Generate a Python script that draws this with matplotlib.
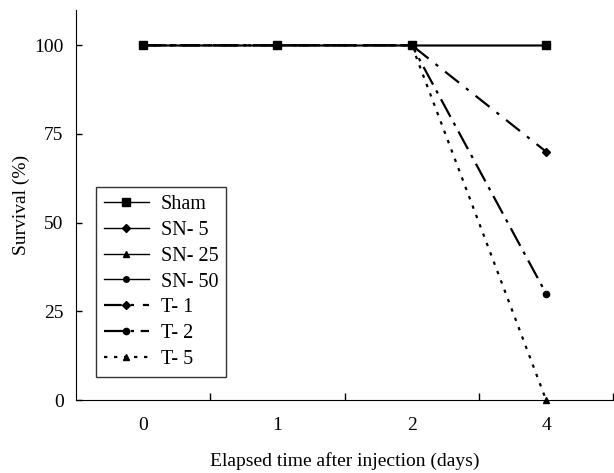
import matplotlib
matplotlib.use("Agg")
import matplotlib.pyplot as plt

plt.rcParams['font.family'] = ['Liberation Serif', 'DejaVu Serif']

days = ["0", "1", "2", "4"]
sham = [100, 100, 100, 100]
sn5 = [100, 100, 100, 100]
sn25 = [100, 100, 100, 100]
sn50 = [100, 100, 100, 100]
t1 = [100, 100, 100, 70]
t2 = [100, 100, 100, 30]
t5 = [100, 100, 100, 0]
y_ticks = [0, 25, 50, 75, 100]

fig = plt.figure(figsize=(6.14, 4.73), dpi=100)
ax = fig.add_axes([0.1238, 0.1543, 0.875, 0.825])
x = list(range(len(days)))

ax.plot(x, t5, color='black', lw=1.6, ls=(0, (1.5, 3)), marker='^', ms=5, label='T- 5', zorder=2, clip_on=False)
ax.plot(x, t2, color='black', lw=1.6, ls=(0, (9, 3, 1.5, 3)), marker='o', ms=4.5, label='T- 2', zorder=2, clip_on=False)
ax.plot(x, t1, color='black', lw=1.6, ls=(0, (8, 4, 1.5, 4)), marker='D', ms=4, label='T- 1', zorder=2, clip_on=False)
ax.plot(x, sn50, color='black', lw=1.0, marker='o', ms=4, label='SN- 50', zorder=3, clip_on=False)
ax.plot(x, sn25, color='black', lw=1.0, marker='^', ms=4.5, label='SN- 25', zorder=3, clip_on=False)
ax.plot(x, sn5, color='black', lw=1.0, marker='D', ms=4, label='SN- 5', zorder=3, clip_on=False)
ax.plot(x, sham, color='black', lw=1.0, marker='s', ms=5.5, label='Sham', zorder=4, clip_on=False)

ax.set_xlim(-0.5, 3.5)
ax.set_ylim(0, 110)
ax.spines['top'].set_visible(False)
ax.spines['right'].set_visible(False)

ax.set_xticks([0.5, 1.5, 2.5, 3.5])
ax.set_xticklabels([])
ax.tick_params(axis='x', which='major', direction='in', length=5, width=1)
ax.set_xticks(x, minor=True)
ax.set_xticklabels(days, minor=True)
ax.tick_params(axis='x', which='minor', length=0, pad=12, labelsize=14)

ax.set_yticks(y_ticks)
ax.tick_params(axis='y', direction='in', length=4, width=1, pad=9, labelsize=14)

ax.set_xlabel('Elapsed time after injection (days)', fontsize=14, labelpad=13)
ax.set_ylabel('Survival (%)', fontsize=14, labelpad=3)

handles, labels = ax.get_legend_handles_labels()
order = ['Sham', 'SN- 5', 'SN- 25', 'SN- 50', 'T- 1', 'T- 2', 'T- 5']
hmap = dict(zip(labels, handles))
leg = ax.legend([hmap[k] for k in order], order, loc='lower left',
                bbox_to_anchor=(0.037, 0.059), borderaxespad=0,
                fontsize=14.5, frameon=True,
                fancybox=False, edgecolor='black', handlelength=2.25,
                labelspacing=0.34, borderpad=0.38, handletextpad=0.6)
leg.get_frame().set_linewidth(1.0)

fig.savefig('out.png', dpi=100)
